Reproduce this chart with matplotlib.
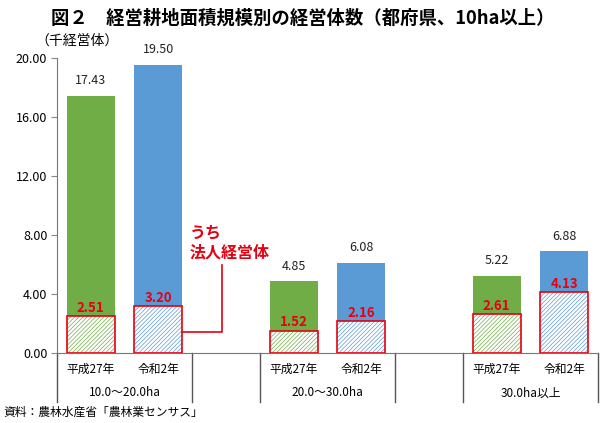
import matplotlib.pyplot as plt
from matplotlib.transforms import blended_transform_factory

plt.rcParams["font.family"] = ["Noto Sans CJK JP", "DejaVu Sans"]
plt.rcParams["hatch.linewidth"] = 0.5

# data (thousand management entities)
years = ["平成27年", "令和2年"]
groups = ["10.0～20.0ha", "20.0～30.0ha", "30.0ha以上"]
total_h27 = [17.43, 4.85, 5.22]
total_r2 = [19.50, 6.08, 6.88]
corp_h27 = [2.51, 1.52, 2.61]
corp_r2 = [3.20, 2.16, 4.13]

green = "#70AD47"
blue = "#5B9BD5"
red = "#E60012"

fig = plt.figure(figsize=(6.0, 4.23), dpi=100)
ax = fig.add_axes([0.095, 0.1655, 0.902, 0.6975])

pos_h27 = [0, 3, 6]
pos_r2 = [1, 4, 7]
w = 0.71

for pos, tot, corp, col in [(pos_h27, total_h27, corp_h27, green),
                            (pos_r2, total_r2, corp_r2, blue)]:
    ax.bar(pos, tot, width=w, color=col, zorder=2)
    ax.bar(pos, corp, width=w, color="white", edgecolor=col, hatch="////////",
           linewidth=0, zorder=3)
    ax.bar(pos, corp, width=w, fill=False, edgecolor=red, linewidth=1.2, zorder=4)
    for x, t, c in zip(pos, tot, corp):
        ax.text(x, t + 0.6, f"{t:.2f}", ha="center", va="bottom", fontsize=9,
                color="#222222")
        ax.text(x, c + 0.08, f"{c:.2f}", ha="center", va="bottom", fontsize=9.5,
                color=red, fontweight="bold")

ax.set_xlim(-0.5, 7.5)
ax.set_ylim(0, 20)
ax.set_yticks([0, 4, 8, 12, 16, 20])
ax.set_yticklabels([f"{v:.2f}" for v in [0, 4, 8, 12, 16, 20]], fontsize=9)
ax.tick_params(axis="y", length=4, color="#888888", pad=3)
ax.set_xticks(pos_h27 + pos_r2)
ax.set_xticklabels([years[0]] * 3 + [years[1]] * 3, fontsize=8.5)
ax.tick_params(axis="x", length=0, pad=7)

for s in ["top", "right"]:
    ax.spines[s].set_visible(False)
ax.spines["left"].set_color("#777777")
ax.spines["bottom"].set_color("#777777")

# separators and group labels under the axis
trans = blended_transform_factory(ax.transData, ax.transAxes)
for xs in [-0.5, 1.5, 2.5, 4.5, 5.5, 7.5]:
    ax.plot([xs, xs], [0, -0.166], transform=trans, color="#555555",
            linewidth=1, clip_on=False)
for x, g in zip([0.5, 3.5, 6.5], groups):
    ax.text(x, -0.135, g, transform=trans, ha="center", va="center", fontsize=8.5)

# annotation for corporate entities
ax.plot([1.355, 1.94, 1.94], [1.42, 1.42, 5.97], color=red, linewidth=1.2,
        zorder=5)
ax.text(1.46, 6.25, "うち\n法人経営体", color=red, fontsize=11.5, fontweight="bold",
        ha="left", va="bottom", linespacing=1.3)

fig.text(0.505, 0.957, "図２　経営耕地面積規模別の経営体数（都府県、10ha以上）",
         ha="center", va="center", fontsize=13.2, fontweight="bold")
fig.text(0.128, 0.905, "（千経営体）", ha="center", va="center", fontsize=10)
fig.text(0.005, 0.026, "資料：農林水産省「農林業センサス」", ha="left", va="center",
         fontsize=8.5)

fig.savefig("out.png", dpi=100)
